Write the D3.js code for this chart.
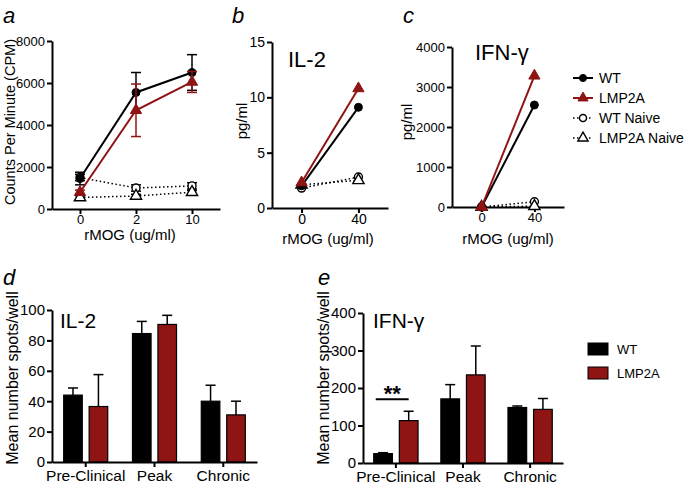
<!DOCTYPE html>
<html><head><meta charset="utf-8">
<script src="https://cdn.jsdelivr.net/npm/d3@7"></script>
<style>
body{margin:0;background:#fff;}
svg{font-family:"Liberation Sans",Arial,Helvetica,sans-serif;}
</style></head>
<body>
<script>
// ---------- DATA ----------
const dosesA = ["0", "2", "10"];
const wtA = [1450, 5550, 6500];
const wtAErr = [300, 950, 850];
const lmpA = [800, 4700, 6050];
const lmpAErr = [100, 1250, 500];
const wtNaiveA = [1500, 1000, 1100];
const wtNaiveAErr = [150, 150, 150];
const lmpNaiveA = [550, 620, 800];
const lmpNaiveAErr = [80, 80, 80];
const yTicksA = [0, 2000, 4000, 6000, 8000];

const dosesB = ["0", "40"];
const wtB = [2.0, 9.1];
const lmpB = [2.3, 10.8];
const wtNaiveB = [1.8, 2.8];
const lmpNaiveB = [2.1, 2.5];
const yTicksB = [0, 5, 10, 15];

const dosesC = ["0", "40"];
const wtC = [0, 2550];
const lmpC = [0, 3280];
const wtNaiveC = [0, 130];
const lmpNaiveC = [0, 20];
const yTicksC = [0, 1000, 2000, 3000, 4000];

const stages = ["Pre-Clinical", "Peak", "Chronic"];
const groups = ["WT", "LMP2A"];
const wtD = [44, 84.5, 40];
const wtDErr = [4.7, 8, 10.5];
const lmpD = [36.5, 90.5, 31];
const lmpDErr = [21, 6, 9];
const yTicksD = [0, 20, 40, 60, 80, 100];

const wtE = [25, 171, 148];
const wtEErr = [2.5, 38, 4];
const lmpE = [113, 235, 143];
const lmpEErr = [25, 77, 29];
const yTicksE = [0, 100, 200, 300, 400];
const sigLevel = 170;

const lineLegend = ["WT", "LMP2A", "WT Naive", "LMP2A Naive"];

// ---------- STYLE ----------
const RED = "#8f1414";
const BLACK = "#000";
const fmt = d3.format("d");

const svg = d3.select("body").append("svg").attr("width", 685).attr("height", 487);

function styleAxis(g, fs) {
  g.selectAll("path.domain").attr("stroke", "#000").attr("stroke-width", 2);
  g.selectAll(".tick line").attr("stroke", "#000").attr("stroke-width", 2);
  g.selectAll(".tick text").attr("font-size", fs).attr("fill", "#000")
    .attr("font-family", '"Liberation Sans",Arial,sans-serif');
}

function marker(g, type, open, color, x, y, size) {
  const sym = type === "circle" ? d3.symbolCircle : d3.symbolTriangle;
  g.append("path")
    .attr("d", d3.symbol().type(sym).size(size)())
    .attr("transform", `translate(${x},${y})`)
    .attr("fill", open ? "#fff" : color)
    .attr("stroke", color)
    .attr("stroke-width", open ? 1.4 : 1);
}

function lineChart(o) {
  const x = d3.scalePoint().domain(o.doses).range(o.xr).padding(o.pad);
  const y = d3.scaleLinear().domain(o.ydom).range(o.yr);
  const gx = svg.append("g").attr("transform", `translate(0,${o.yr[0]})`)
    .call(d3.axisBottom(x).tickSize(5).tickSizeOuter(0).tickPadding(1));
  styleAxis(gx, o.fs);
  const gy = svg.append("g").attr("transform", `translate(${o.xr[0]},0)`)
    .call(d3.axisLeft(y).tickValues(o.yticks).tickFormat(fmt).tickSize(5).tickSizeOuter(0).tickPadding(2));
  styleAxis(gy, o.fs);

  const g = svg.append("g");
  o.series.forEach(s => {
    const pts = o.doses.map((d, i) => [x(d), y(s.vals[i])]);
    g.append("path").attr("d", d3.line()(pts)).attr("fill", "none")
      .attr("stroke", s.color).attr("stroke-width", s.dotted ? 1.5 : 2)
      .attr("stroke-dasharray", s.dotted ? "1.5,2.5" : null);
    if (s.err) {
      o.doses.forEach((d, i) => {
        const cx = x(d), y1 = y(s.vals[i] + s.err[i]), y0 = y(s.vals[i] - s.err[i]);
        g.append("line").attr("x1", cx).attr("x2", cx).attr("y1", y0).attr("y2", y1)
          .attr("stroke", s.color).attr("stroke-width", 1.5);
        [y0, y1].forEach(yy => g.append("line").attr("x1", cx - 5).attr("x2", cx + 5)
          .attr("y1", yy).attr("y2", yy).attr("stroke", s.color).attr("stroke-width", 1.5));
      });
    }
    pts.forEach(p => marker(g, s.shape, s.open, s.color, p[0], p[1], s.shape === "circle" ? 50 : 55));
  });

  svg.append("text").attr("x", o.xlab[0]).attr("y", o.xlab[1]).attr("text-anchor", "middle")
    .attr("font-size", 15).text("rMOG (ug/ml)");
  svg.append("text").attr("transform", `translate(${o.ylab[0]},${o.ylab[1]}) rotate(-90)`)
    .attr("text-anchor", "middle").attr("font-size", o.ylabFs).text(o.ylabText);
  if (o.title) svg.append("text").attr("x", o.title[0]).attr("y", o.title[1])
    .attr("font-size", 22).text(o.title[2]);
  svg.append("text").attr("x", o.letter[0]).attr("y", o.letter[1]).attr("font-size", 22)
    .attr("font-style", "italic").text(o.letter[2]);
}

function series(wt, lmp, wtN, lmpN, errs) {
  return [
    {vals: wtN, color: BLACK, shape: "circle", open: true, dotted: true, err: errs ? errs[2] : null},
    {vals: lmpN, color: BLACK, shape: "triangle", open: true, dotted: true, err: errs ? errs[3] : null},
    {vals: wt, color: BLACK, shape: "circle", open: false, dotted: false, err: errs ? errs[0] : null},
    {vals: lmp, color: RED, shape: "triangle", open: false, dotted: false, err: errs ? errs[1] : null}
  ];
}

lineChart({doses: dosesA, xr: [52, 220], pad: 0.5, ydom: [0, 8000], yr: [209, 41], yticks: yTicksA, fs: 13,
  series: series(wtA, lmpA, wtNaiveA, lmpNaiveA, [wtAErr, lmpAErr, wtNaiveAErr, lmpNaiveAErr]),
  xlab: [130, 240], ylab: [15, 122], ylabFs: 14.5, ylabText: "Counts Per Minute (CPM)", letter: [3, 23, "a"]});

lineChart({doses: dosesB, xr: [272, 388], pad: 0.52, ydom: [0, 15], yr: [208, 42], yticks: yTicksB, fs: 14,
  series: series(wtB, lmpB, wtNaiveB, lmpNaiveB, null),
  xlab: [328, 244], ylab: [247, 121], ylabFs: 15, ylabText: "pg/ml", title: [288, 67, "IL-2"], letter: [232, 23, "b"]});

lineChart({doses: dosesC, xr: [452, 564], pad: 0.56, ydom: [0, 4000], yr: [207, 47], yticks: yTicksC, fs: 13,
  series: series(wtC, lmpC, wtNaiveC, lmpNaiveC, null),
  xlab: [508, 244], ylab: [412, 122], ylabFs: 15, ylabText: "pg/ml", title: [475, 60, "IFN-γ"], letter: [403, 23, "c"]});

// legend for line charts
const lg = svg.append("g");
const legSeries = series([0], [0], [0], [0], null);
const legOrder = [legSeries[2], legSeries[3], legSeries[0], legSeries[1]];
lineLegend.forEach((name, i) => {
  const s = legOrder[i];
  const yy = 78 + i * 20;
  lg.append("line").attr("x1", 573).attr("x2", 593).attr("y1", yy).attr("y2", yy)
    .attr("stroke", s.color).attr("stroke-width", s.dotted ? 1.5 : 2)
    .attr("stroke-dasharray", s.dotted ? "1.5,2.5" : null);
  marker(lg, s.shape, s.open, s.color, 583, yy, s.shape === "circle" ? 40 : 45);
  lg.append("text").attr("x", 599).attr("y", yy + 5).attr("font-size", 14).text(name);
});

function barChart(o) {
  const x0 = d3.scaleBand().domain(stages).range(o.xr).paddingInner(o.pi).paddingOuter(o.po);
  const x1 = d3.scaleBand().domain(groups).range([0, x0.bandwidth()]).paddingInner(0.27);
  const y = d3.scaleLinear().domain(o.ydom).range(o.yr);
  const g = svg.append("g");
  const data = [o.wt, o.lmp], errs = [o.wtErr, o.lmpErr], cols = [BLACK, RED];
  groups.forEach((grp, gi) => {
    stages.forEach((st, i) => {
      const bx = x0(st) + x1(grp), bw = x1.bandwidth(), v = data[gi][i], e = errs[gi][i];
      const cx = bx + bw / 2;
      g.append("line").attr("x1", cx).attr("x2", cx).attr("y1", y(v)).attr("y2", y(v + e))
        .attr("stroke", "#000").attr("stroke-width", 1.5);
      g.append("line").attr("x1", cx - 5).attr("x2", cx + 5).attr("y1", y(v + e)).attr("y2", y(v + e))
        .attr("stroke", "#000").attr("stroke-width", 1.5);
      g.append("rect").attr("x", bx).attr("y", y(v)).attr("width", bw).attr("height", y(0) - y(v))
        .attr("fill", cols[gi]).attr("stroke", "#000").attr("stroke-width", 1.2);
    });
  });
  const gx = svg.append("g").attr("transform", `translate(0,${o.yr[0]})`)
    .call(d3.axisBottom(x0).tickSize(5).tickSizeOuter(0).tickPadding(3));
  styleAxis(gx, 15.5);
  const gy = svg.append("g").attr("transform", `translate(${o.xr[0]},0)`)
    .call(d3.axisLeft(y).tickValues(o.yticks).tickFormat(fmt).tickSize(5).tickSizeOuter(0).tickPadding(2));
  styleAxis(gy, o.fs);
  svg.append("text").attr("transform", `translate(${o.ylab[0]},${o.ylab[1]}) rotate(-90)`)
    .attr("text-anchor", "middle").attr("font-size", 16).text("Mean number spots/well");
  svg.append("text").attr("x", o.title[0]).attr("y", o.title[1]).attr("font-size", 21).text(o.title[2]);
  svg.append("text").attr("x", o.letter[0]).attr("y", o.letter[1]).attr("font-size", 22)
    .attr("font-style", "italic").text(o.letter[2]);
  return {x0, x1, y};
}

barChart({xr: [52, 257], pi: 0.36, po: 0.17, ydom: [0, 100], yr: [462, 310], yticks: yTicksD, fs: 15,
  wt: wtD, wtErr: wtDErr, lmp: lmpD, lmpErr: lmpDErr, ylab: [18, 378], title: [60, 328, "IL-2"], letter: [3, 285, "d"]});

const sE = barChart({xr: [363, 563], pi: 0.34, po: 0.16, ydom: [0, 400], yr: [463, 313], yticks: yTicksE, fs: 15,
  wt: wtE, wtErr: wtEErr, lmp: lmpE, lmpErr: lmpEErr, ylab: [329, 378], title: [373, 328, "IFN-γ"], letter: [318, 285, "e"]});

// significance bar
const sx1 = sE.x0(stages[0]) + sE.x1("WT") + 2;
const sx2 = sE.x0(stages[0]) + sE.x1("LMP2A") + sE.x1.bandwidth() / 2;
svg.append("line").attr("x1", sx1).attr("x2", sx2).attr("y1", sE.y(sigLevel)).attr("y2", sE.y(sigLevel))
  .attr("stroke", "#000").attr("stroke-width", 2);
svg.append("text").attr("x", (sx1 + sx2) / 2).attr("y", sE.y(sigLevel) + 2).attr("text-anchor", "middle")
  .attr("font-size", 22).attr("font-weight", "bold").text("**");

// bar legend
groups.forEach((grp, i) => {
  const yy = 343 + i * 24;
  svg.append("rect").attr("x", 588).attr("y", yy).attr("width", 20).attr("height", 12)
    .attr("fill", i === 0 ? BLACK : RED).attr("stroke", "#000").attr("stroke-width", 1);
  svg.append("text").attr("x", 617).attr("y", yy + 11).attr("font-size", 13).text(grp);
});
</script>
</body></html>
